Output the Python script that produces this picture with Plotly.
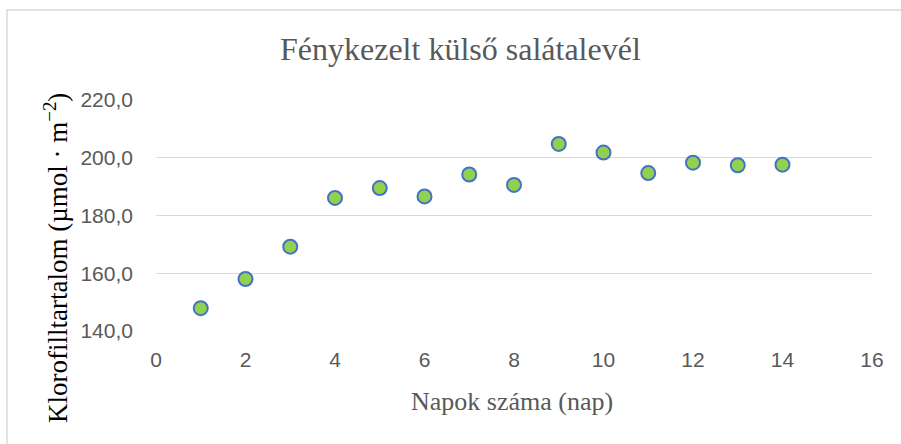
import plotly.graph_objects as go

days = [1, 2, 3, 4, 5, 6, 7, 8, 9, 10, 11, 12, 13, 14]
chlorophyll = [147.9, 158.0, 169.2, 186.1, 189.5, 186.6, 194.2, 190.6, 204.8, 201.8, 194.7, 198.3, 197.4, 197.6]
x_ticks = [0, 2, 4, 6, 8, 10, 12, 14, 16]
y_ticks = [140, 160, 180, 200, 220]

title_text = "Fénykezelt külső salátalevél"
x_title = "Napok száma (nap)"
y_title = "Klorofilltartalom (µmol · m<sup>−2</sup>)"

W, H = 901, 444
L, R, T, B = 156, 872, 100, 331

def px(x):
    return (x - L) / (R - L)

def py(y):
    return (B - y) / (B - T)

fig = go.Figure()
fig.add_trace(go.Scatter(
    x=days, y=chlorophyll, mode="markers",
    marker=dict(size=14, color="#92D050", line=dict(color="#4472C4", width=2)),
    showlegend=False, hoverinfo="x+y",
))

serif = "Liberation Serif, Times New Roman, serif"
sans = "Liberation Sans, Arial, sans-serif"

fig.update_layout(
    width=W, height=H,
    margin=dict(l=L, r=W - R, t=T, b=H - B),
    paper_bgcolor="white", plot_bgcolor="white",
    separators=", ",
    xaxis=dict(range=[0, 16], tickvals=x_ticks, showgrid=False, zeroline=False,
               showline=False, ticks="", tickfont=dict(family=sans, size=21, color="#595959"),
               ticklabelstandoff=14),
    yaxis=dict(range=[140, 220], tickvals=y_ticks, tickformat=".1f", showgrid=True,
               gridcolor="#D9D9D9", gridwidth=1, zeroline=False, showline=False, ticks="",
               tickfont=dict(family=sans, size=21, color="#595959"), ticklabelstandoff=22),
    shapes=[dict(type="rect", xref="paper", yref="paper",
                 x0=px(7), x1=px(W + 10), y0=py(H + 10), y1=py(10),
                 line=dict(color="#D9D9D9", width=1.5), fillcolor="rgba(0,0,0,0)", layer="below")],
    annotations=[
        dict(text=title_text, xref="paper", yref="paper", x=px(460), y=py(49),
             showarrow=False, xanchor="center", yanchor="middle",
             font=dict(family=serif, size=32, color="#595959")),
        dict(text=x_title, xref="paper", yref="paper", x=px(512), y=py(401),
             showarrow=False, xanchor="center", yanchor="middle",
             font=dict(family=serif, size=26, color="#595959")),
        dict(text=y_title, xref="paper", yref="paper", x=px(56), y=py(258),
             showarrow=False, xanchor="center", yanchor="middle", textangle=-90,
             font=dict(family=serif, size=27, color="#000000")),
    ],
)

fig.write_html("out.html", config={"displayModeBar": False},
               post_script="document.body.style.margin='0';document.body.style.padding='0';")
